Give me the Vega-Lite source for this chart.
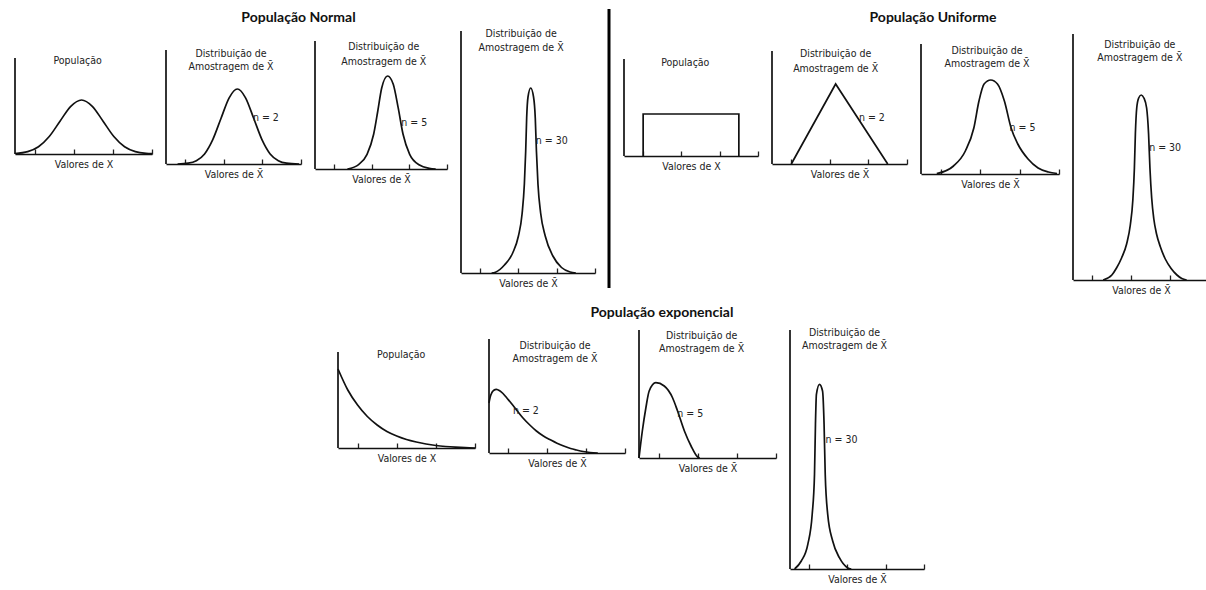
{
"$schema": "https://vega.github.io/schema/vega-lite/v6.json",
"padding": {"left": 11, "top": 7, "right": 0, "bottom": 0},
"background": "white",
"datasets": {
"n1": [{"i":0,"x":0,"y":0.5},{"i":1,"x":0.65,"y":2.4},{"i":2,"x":1.2,"y":7.3},{"i":3,"x":1.75,"y":17.5},{"i":4,"x":2.3,"y":32.8},{"i":5,"x":2.85,"y":47.7},{"i":6,"x":3.4,"y":54},{"i":7,"x":3.95,"y":47.7},{"i":8,"x":4.5,"y":32.8},{"i":9,"x":5.05,"y":17.5},{"i":10,"x":5.6,"y":7.3},{"i":11,"x":6.15,"y":2.4},{"i":12,"x":6.7,"y":0.6},{"i":13,"x":7,"y":0.3}],
"n2": [{"i":0,"x":0.6,"y":0},{"i":1,"x":1.15,"y":0.8},{"i":2,"x":1.575,"y":3.3},{"i":3,"x":2.0,"y":10.1},{"i":4,"x":2.425,"y":24.4},{"i":5,"x":2.85,"y":45.5},{"i":6,"x":3.275,"y":66.2},{"i":7,"x":3.7,"y":75},{"i":8,"x":4.125,"y":66.2},{"i":9,"x":4.55,"y":45.5},{"i":10,"x":4.975,"y":24.4},{"i":11,"x":5.4,"y":10.1},{"i":12,"x":5.825,"y":3.3},{"i":13,"x":6.25,"y":0.8},{"i":14,"x":6.9,"y":0}],
"n3": [{"i":0,"x":1.72,"y":0},{"i":1,"x":2.33,"y":4.7},{"i":2,"x":2.76,"y":14.7},{"i":3,"x":3.11,"y":34.7},{"i":4,"x":3.33,"y":58},{"i":5,"x":3.54,"y":81.3},{"i":6,"x":3.85,"y":93},{"i":7,"x":4.15,"y":84.7},{"i":8,"x":4.41,"y":61.3},{"i":9,"x":4.67,"y":34.7},{"i":10,"x":5.02,"y":14.7},{"i":11,"x":5.54,"y":4},{"i":12,"x":6.06,"y":0.7},{"i":13,"x":6.4,"y":0}],
"n4": [{"i":0,"x":1.6,"y":0},{"i":1,"x":1.8,"y":0.8},{"i":2,"x":2.27,"y":8},{"i":3,"x":2.7,"y":20},{"i":4,"x":3.0,"y":37},{"i":5,"x":3.19,"y":59},{"i":6,"x":3.31,"y":89},{"i":7,"x":3.38,"y":122},{"i":8,"x":3.43,"y":155},{"i":9,"x":3.5,"y":176},{"i":10,"x":3.64,"y":185},{"i":11,"x":3.79,"y":176},{"i":12,"x":3.88,"y":155},{"i":13,"x":3.94,"y":122},{"i":14,"x":4.02,"y":89},{"i":15,"x":4.16,"y":60},{"i":16,"x":4.4,"y":37},{"i":17,"x":4.8,"y":17},{"i":18,"x":5.25,"y":5.5},{"i":19,"x":5.7,"y":1},{"i":20,"x":6.0,"y":0}],
"u1": [{"i":0,"x":1,"y":0},{"i":1,"x":1,"y":42},{"i":2,"x":6,"y":42},{"i":3,"x":6,"y":0}],
"u2": [{"i":0,"x":1,"y":0},{"i":1,"x":3.3,"y":80},{"i":2,"x":6,"y":0}],
"u3": [{"i":0,"x":0.8,"y":0.3},{"i":1,"x":1.65,"y":8},{"i":2,"x":2.25,"y":23},{"i":3,"x":2.68,"y":46},{"i":4,"x":2.94,"y":73},{"i":5,"x":3.2,"y":90},{"i":6,"x":3.54,"y":94},{"i":7,"x":3.88,"y":90},{"i":8,"x":4.23,"y":73},{"i":9,"x":4.57,"y":46},{"i":10,"x":4.91,"y":30},{"i":11,"x":5.43,"y":15},{"i":12,"x":5.94,"y":6},{"i":13,"x":6.46,"y":2},{"i":14,"x":6.9,"y":0.5}],
"u4": [{"i":0,"x":1.55,"y":0},{"i":1,"x":2.0,"y":5},{"i":2,"x":2.24,"y":12},{"i":3,"x":2.5,"y":22},{"i":4,"x":2.76,"y":36},{"i":5,"x":2.95,"y":55},{"i":6,"x":3.08,"y":80},{"i":7,"x":3.16,"y":112},{"i":8,"x":3.21,"y":146},{"i":9,"x":3.28,"y":172},{"i":10,"x":3.38,"y":182},{"i":11,"x":3.51,"y":185},{"i":12,"x":3.65,"y":182},{"i":13,"x":3.79,"y":172},{"i":14,"x":3.89,"y":146},{"i":15,"x":3.96,"y":112},{"i":16,"x":4.05,"y":82},{"i":17,"x":4.16,"y":61},{"i":18,"x":4.3,"y":46},{"i":19,"x":4.5,"y":33},{"i":20,"x":4.75,"y":21},{"i":21,"x":5.05,"y":11.5},{"i":22,"x":5.35,"y":5},{"i":23,"x":5.6,"y":1.5},{"i":24,"x":5.85,"y":0}],
"e1": [{"i":0,"x":0,"y":79},{"i":1,"x":0.5,"y":58},{"i":2,"x":1,"y":43},{"i":3,"x":1.5,"y":31.5},{"i":4,"x":2,"y":23},{"i":5,"x":2.5,"y":16.5},{"i":6,"x":3,"y":12},{"i":7,"x":3.5,"y":8.5},{"i":8,"x":4,"y":6},{"i":9,"x":4.5,"y":4},{"i":10,"x":5,"y":2.5},{"i":11,"x":5.5,"y":1.5},{"i":12,"x":6,"y":0.8},{"i":13,"x":6.5,"y":0.3},{"i":14,"x":7,"y":0}],
"e2": [{"i":0,"x":0,"y":50},{"i":1,"x":0.06,"y":56},{"i":2,"x":0.15,"y":60.5},{"i":3,"x":0.25,"y":62.8},{"i":4,"x":0.38,"y":63.7},{"i":5,"x":0.55,"y":62.3},{"i":6,"x":0.72,"y":59.5},{"i":7,"x":0.9,"y":55.5},{"i":8,"x":1.05,"y":52},{"i":9,"x":1.24,"y":47.5},{"i":10,"x":1.5,"y":41},{"i":11,"x":1.75,"y":35},{"i":12,"x":2.1,"y":28},{"i":13,"x":2.44,"y":22},{"i":14,"x":2.8,"y":17},{"i":15,"x":3.13,"y":13.5},{"i":16,"x":3.5,"y":9.8},{"i":17,"x":3.81,"y":7.2},{"i":18,"x":4.2,"y":4.5},{"i":19,"x":4.5,"y":3},{"i":20,"x":4.85,"y":1.5},{"i":21,"x":5.2,"y":0.5},{"i":22,"x":5.6,"y":0}],
"e3": [{"i":0,"x":0,"y":0},{"i":1,"x":0.17,"y":27},{"i":2,"x":0.35,"y":50},{"i":3,"x":0.52,"y":67},{"i":4,"x":0.86,"y":75.3},{"i":5,"x":1.29,"y":72},{"i":6,"x":1.72,"y":60},{"i":7,"x":1.97,"y":47},{"i":8,"x":2.32,"y":27},{"i":9,"x":2.66,"y":12},{"i":10,"x":3.0,"y":1},{"i":11,"x":3.1,"y":0}],
"e4": [{"i":0,"x":0.24,"y":0},{"i":1,"x":0.59,"y":8},{"i":2,"x":0.93,"y":24.7},{"i":3,"x":1.16,"y":54.7},{"i":4,"x":1.28,"y":94.7},{"i":5,"x":1.33,"y":144.7},{"i":6,"x":1.38,"y":174.7},{"i":7,"x":1.54,"y":184.7},{"i":8,"x":1.7,"y":178},{"i":9,"x":1.78,"y":144.7},{"i":10,"x":1.84,"y":94.7},{"i":11,"x":1.97,"y":54.7},{"i":12,"x":2.23,"y":28},{"i":13,"x":2.58,"y":11.3},{"i":14,"x":3.0,"y":1.3},{"i":15,"x":3.2,"y":0}]
},
"vconcat": [
{"spacing": 14, "bounds": "flush", "hconcat": [
  {"width": 137, "height": 123, "layer": [
   {"data": {"name": "n1"}, "mark": {"type": "line", "interpolate": "monotone", "color": "#111", "strokeWidth": 1.7},
    "encoding": {"x": {"field": "x", "type": "quantitative", "scale": {"domain": [0, 7], "nice": false, "zero": false}, "axis": {"values": [1,2,3,4,5,6,7], "title": "Valores de X"}},
     "y": {"field": "y", "type": "quantitative", "scale": {"domain": [0, 123], "nice": false}, "axis": null}, "order": {"field": "i"}}},
   {"data": {"values": [{}]}, "mark": {"type": "rule", "color": "#111", "strokeWidth": 1.7}, "encoding": {"x": {"datum": 0}, "y": {"datum": 0, "axis": null}, "y2": {"datum": 96}}},
   {"data": {"values": [{}]}, "mark": {"type": "text"}, "encoding": {"x": {"datum": 3.2}, "y": {"datum": 93, "axis": null}, "text": {"value": "População"}}}
  ]},
  {"width": 135, "height": 133, "layer": [
   {"data": {"name": "n2"}, "mark": {"type": "line", "interpolate": "monotone", "color": "#111", "strokeWidth": 1.7},
    "encoding": {"x": {"field": "x", "type": "quantitative", "scale": {"domain": [0, 7], "nice": false, "zero": false}, "axis": {"values": [1,2,3,4,5,6,7], "title": "Valores de X̄"}},
     "y": {"field": "y", "type": "quantitative", "scale": {"domain": [0, 133], "nice": false}, "axis": null}, "order": {"field": "i"}}},
   {"data": {"values": [{}]}, "mark": {"type": "rule", "color": "#111", "strokeWidth": 1.7}, "encoding": {"x": {"datum": 0}, "y": {"datum": 0, "axis": null}, "y2": {"datum": 114}}},
   {"data": {"values": [{}]}, "mark": {"type": "text"}, "encoding": {"x": {"datum": 3.37}, "y": {"datum": 110, "axis": null}, "text": {"value": "Distribuição de"}}},
   {"data": {"values": [{}]}, "mark": {"type": "text"}, "encoding": {"x": {"datum": 3.37}, "y": {"datum": 97, "axis": null}, "text": {"value": "Amostragem de X̄"}}},
   {"data": {"values": [{}]}, "mark": {"type": "text"}, "encoding": {"x": {"datum": 5.18}, "y": {"datum": 46, "axis": null}, "text": {"value": "n = 2"}}},
   {"data": {"values": [{}]}, "mark": {"type": "text", "font": "Lato", "fontSize": 14, "fontWeight": "bold", "color": "#111"}, "encoding": {"x": {"datum": 6.87}, "y": {"datum": 146, "axis": null}, "text": {"value": "População Normal"}}}
  ]},
  {"width": 132, "height": 138, "layer": [
   {"data": {"name": "n3"}, "mark": {"type": "line", "interpolate": "monotone", "color": "#111", "strokeWidth": 1.7},
    "encoding": {"x": {"field": "x", "type": "quantitative", "scale": {"domain": [0, 7], "nice": false, "zero": false}, "axis": {"values": [1,2,3,4,5,6,7], "title": "Valores de X̄"}},
     "y": {"field": "y", "type": "quantitative", "scale": {"domain": [0, 138], "nice": false}, "axis": null}, "order": {"field": "i"}}},
   {"data": {"values": [{}]}, "mark": {"type": "rule", "color": "#111", "strokeWidth": 1.7}, "encoding": {"x": {"datum": 0}, "y": {"datum": 0, "axis": null}, "y2": {"datum": 128}}},
   {"data": {"values": [{}]}, "mark": {"type": "text"}, "encoding": {"x": {"datum": 3.65}, "y": {"datum": 122, "axis": null}, "text": {"value": "Distribuição de"}}},
   {"data": {"values": [{}]}, "mark": {"type": "text"}, "encoding": {"x": {"datum": 3.65}, "y": {"datum": 107, "axis": null}, "text": {"value": "Amostragem de X̄"}}},
   {"data": {"values": [{}]}, "mark": {"type": "text"}, "encoding": {"x": {"datum": 5.26}, "y": {"datum": 46, "axis": null}, "text": {"value": "n = 5"}}}
  ]},
  {"width": 134, "height": 242, "layer": [
   {"data": {"name": "n4"}, "mark": {"type": "line", "interpolate": "monotone", "color": "#111", "strokeWidth": 1.7},
    "encoding": {"x": {"field": "x", "type": "quantitative", "scale": {"domain": [0, 7], "nice": false, "zero": false}, "axis": {"values": [1,2,3,4,5,6,7], "title": "Valores de X̄"}},
     "y": {"field": "y", "type": "quantitative", "scale": {"domain": [0, 242], "nice": false}, "axis": null}, "order": {"field": "i"}}},
   {"data": {"values": [{}]}, "mark": {"type": "rule", "color": "#111", "strokeWidth": 1.7}, "encoding": {"x": {"datum": 0}, "y": {"datum": 0, "axis": null}, "y2": {"datum": 242}}},
   {"data": {"values": [{}]}, "mark": {"type": "text"}, "encoding": {"x": {"datum": 3.14}, "y": {"datum": 239, "axis": null}, "text": {"value": "Distribuição de"}}},
   {"data": {"values": [{}]}, "mark": {"type": "text"}, "encoding": {"x": {"datum": 3.14}, "y": {"datum": 225, "axis": null}, "text": {"value": "Amostragem de X̄"}}},
   {"data": {"values": [{}]}, "mark": {"type": "text"}, "encoding": {"x": {"datum": 4.74}, "y": {"datum": 132, "axis": null}, "text": {"value": "n = 30"}}}
  ]},
  {"width": 1, "height": 257, "data": {"values": [{}]}, "mark": {"type": "rule", "color": "#000", "strokeWidth": 3},
   "encoding": {"x": {"datum": 0, "scale": {"domain": [0, 1]}, "axis": null}, "y": {"datum": 0, "scale": {"domain": [0, 257], "nice": false}, "axis": null}, "y2": {"datum": 279}}},
  {"width": 134, "height": 125, "layer": [
   {"data": {"name": "u1"}, "mark": {"type": "line", "interpolate": "linear", "color": "#111", "strokeWidth": 1.7},
    "encoding": {"x": {"field": "x", "type": "quantitative", "scale": {"domain": [0, 7], "nice": false, "zero": false}, "axis": {"values": [1,2,3,4,5,6,7], "title": "Valores de X"}},
     "y": {"field": "y", "type": "quantitative", "scale": {"domain": [0, 125], "nice": false}, "axis": null}, "order": {"field": "i"}}},
   {"data": {"values": [{}]}, "mark": {"type": "rule", "color": "#111", "strokeWidth": 1.7}, "encoding": {"x": {"datum": 0}, "y": {"datum": 0, "axis": null}, "y2": {"datum": 97}}},
   {"data": {"values": [{}]}, "mark": {"type": "text"}, "encoding": {"x": {"datum": 3.2}, "y": {"datum": 93, "axis": null}, "text": {"value": "População"}}}
  ]},
  {"width": 135, "height": 133, "layer": [
   {"data": {"name": "u2"}, "mark": {"type": "line", "interpolate": "linear", "color": "#111", "strokeWidth": 1.7},
    "encoding": {"x": {"field": "x", "type": "quantitative", "scale": {"domain": [0, 7], "nice": false, "zero": false}, "axis": {"values": [1,2,3,4,5,6,7], "title": "Valores de X̄"}},
     "y": {"field": "y", "type": "quantitative", "scale": {"domain": [0, 133], "nice": false}, "axis": null}, "order": {"field": "i"}}},
   {"data": {"values": [{}]}, "mark": {"type": "rule", "color": "#111", "strokeWidth": 1.7}, "encoding": {"x": {"datum": 0}, "y": {"datum": 0, "axis": null}, "y2": {"datum": 113}}},
   {"data": {"values": [{}]}, "mark": {"type": "text"}, "encoding": {"x": {"datum": 3.3}, "y": {"datum": 110, "axis": null}, "text": {"value": "Distribuição de"}}},
   {"data": {"values": [{}]}, "mark": {"type": "text"}, "encoding": {"x": {"datum": 3.3}, "y": {"datum": 95, "axis": null}, "text": {"value": "Amostragem de X̄"}}},
   {"data": {"values": [{}]}, "mark": {"type": "text"}, "encoding": {"x": {"datum": 5.18}, "y": {"datum": 46, "axis": null}, "text": {"value": "n = 2"}}},
   {"data": {"values": [{}]}, "mark": {"type": "text", "font": "Lato", "fontSize": 14, "fontWeight": "bold", "color": "#111"}, "encoding": {"x": {"datum": 8.35}, "y": {"datum": 146, "axis": null}, "text": {"value": "População Uniforme"}}}
  ]},
  {"width": 138, "height": 143, "layer": [
   {"data": {"name": "u3"}, "mark": {"type": "line", "interpolate": "monotone", "color": "#111", "strokeWidth": 1.7},
    "encoding": {"x": {"field": "x", "type": "quantitative", "scale": {"domain": [0, 7], "nice": false, "zero": false}, "axis": {"values": [1,2,3,4,5,6,7], "title": "Valores de X̄"}},
     "y": {"field": "y", "type": "quantitative", "scale": {"domain": [0, 143], "nice": false}, "axis": null}, "order": {"field": "i"}}},
   {"data": {"values": [{}]}, "mark": {"type": "rule", "color": "#111", "strokeWidth": 1.7}, "encoding": {"x": {"datum": 0}, "y": {"datum": 0, "axis": null}, "y2": {"datum": 130}}},
   {"data": {"values": [{}]}, "mark": {"type": "text"}, "encoding": {"x": {"datum": 3.35}, "y": {"datum": 123, "axis": null}, "text": {"value": "Distribuição de"}}},
   {"data": {"values": [{}]}, "mark": {"type": "text"}, "encoding": {"x": {"datum": 3.35}, "y": {"datum": 110, "axis": null}, "text": {"value": "Amostragem de X̄"}}},
   {"data": {"values": [{}]}, "mark": {"type": "text"}, "encoding": {"x": {"datum": 5.15}, "y": {"datum": 46, "axis": null}, "text": {"value": "n = 5"}}}
  ]},
  {"width": 136, "height": 249, "layer": [
   {"data": {"name": "u4"}, "mark": {"type": "line", "interpolate": "monotone", "color": "#111", "strokeWidth": 1.7},
    "encoding": {"x": {"field": "x", "type": "quantitative", "scale": {"domain": [0, 7], "nice": false, "zero": false}, "axis": {"values": [1,2,3,4,5,6,7], "title": "Valores de X̄"}},
     "y": {"field": "y", "type": "quantitative", "scale": {"domain": [0, 249], "nice": false}, "axis": null}, "order": {"field": "i"}}},
   {"data": {"values": [{}]}, "mark": {"type": "rule", "color": "#111", "strokeWidth": 1.7}, "encoding": {"x": {"datum": 0}, "y": {"datum": 0, "axis": null}, "y2": {"datum": 246}}},
   {"data": {"values": [{}]}, "mark": {"type": "text"}, "encoding": {"x": {"datum": 3.44}, "y": {"datum": 235, "axis": null}, "text": {"value": "Distribuição de"}}},
   {"data": {"values": [{}]}, "mark": {"type": "text"}, "encoding": {"x": {"datum": 3.44}, "y": {"datum": 222, "axis": null}, "text": {"value": "Amostragem de X̄"}}},
   {"data": {"values": [{}]}, "mark": {"type": "text"}, "encoding": {"x": {"datum": 4.74}, "y": {"datum": 132, "axis": null}, "text": {"value": "n = 30"}}}
  ]}
]},
{"spacing": 14, "bounds": "flush", "hconcat": [
  {"width": 309, "height": 10, "data": {"values": [{}]}, "mark": {"type": "rule", "opacity": 0, "strokeWidth": 1.7},
   "encoding": {"x": {"datum": 0, "scale": {"domain": [0, 1]}, "axis": null}}},
  {"width": 137, "height": 118, "layer": [
   {"data": {"name": "e1"}, "mark": {"type": "line", "interpolate": "monotone", "color": "#111", "strokeWidth": 1.7},
    "encoding": {"x": {"field": "x", "type": "quantitative", "scale": {"domain": [0, 7], "nice": false, "zero": false}, "axis": {"values": [1,2,3,4,5,6,7], "title": "Valores de X"}},
     "y": {"field": "y", "type": "quantitative", "scale": {"domain": [0, 118], "nice": false}, "axis": null}, "order": {"field": "i"}}},
   {"data": {"values": [{}]}, "mark": {"type": "rule", "color": "#111", "strokeWidth": 1.7}, "encoding": {"x": {"datum": 0}, "y": {"datum": 0, "axis": null}, "y2": {"datum": 96}}},
   {"data": {"values": [{}]}, "mark": {"type": "text"}, "encoding": {"x": {"datum": 3.23}, "y": {"datum": 93, "axis": null}, "text": {"value": "População"}}}
  ]},
  {"width": 136, "height": 123, "layer": [
   {"data": {"name": "e2"}, "mark": {"type": "line", "interpolate": "monotone", "color": "#111", "strokeWidth": 1.7},
    "encoding": {"x": {"field": "x", "type": "quantitative", "scale": {"domain": [0, 7], "nice": false, "zero": false}, "axis": {"values": [1,2,3,4,5,6,7], "title": "Valores de X̄"}},
     "y": {"field": "y", "type": "quantitative", "scale": {"domain": [0, 123], "nice": false}, "axis": null}, "order": {"field": "i"}}},
   {"data": {"values": [{}]}, "mark": {"type": "rule", "color": "#111", "strokeWidth": 1.7}, "encoding": {"x": {"datum": 0}, "y": {"datum": 0, "axis": null}, "y2": {"datum": 114}}},
   {"data": {"values": [{}]}, "mark": {"type": "text"}, "encoding": {"x": {"datum": 3.4}, "y": {"datum": 107, "axis": null}, "text": {"value": "Distribuição de"}}},
   {"data": {"values": [{}]}, "mark": {"type": "text"}, "encoding": {"x": {"datum": 3.4}, "y": {"datum": 94, "axis": null}, "text": {"value": "Amostragem de X̄"}}},
   {"data": {"values": [{}]}, "mark": {"type": "text"}, "encoding": {"x": {"datum": 1.9}, "y": {"datum": 42, "axis": null}, "text": {"value": "n = 2"}}},
   {"data": {"values": [{}]}, "mark": {"type": "text", "font": "Lato", "fontSize": 14, "fontWeight": "bold", "color": "#111"}, "encoding": {"x": {"datum": 8.9}, "y": {"datum": 140, "axis": null}, "text": {"value": "População exponencial"}}}
  ]},
  {"width": 137, "height": 128, "layer": [
   {"data": {"name": "e3"}, "mark": {"type": "line", "interpolate": "monotone", "color": "#111", "strokeWidth": 1.7},
    "encoding": {"x": {"field": "x", "type": "quantitative", "scale": {"domain": [0, 7], "nice": false, "zero": false}, "axis": {"values": [1,2,3,4,5,6,7], "title": "Valores de X̄"}},
     "y": {"field": "y", "type": "quantitative", "scale": {"domain": [0, 128], "nice": false}, "axis": null}, "order": {"field": "i"}}},
   {"data": {"values": [{}]}, "mark": {"type": "rule", "color": "#111", "strokeWidth": 1.7}, "encoding": {"x": {"datum": 0}, "y": {"datum": 0, "axis": null}, "y2": {"datum": 128}}},
   {"data": {"values": [{}]}, "mark": {"type": "text"}, "encoding": {"x": {"datum": 3.2}, "y": {"datum": 122, "axis": null}, "text": {"value": "Distribuição de"}}},
   {"data": {"values": [{}]}, "mark": {"type": "text"}, "encoding": {"x": {"datum": 3.2}, "y": {"datum": 109, "axis": null}, "text": {"value": "Amostragem de X̄"}}},
   {"data": {"values": [{}]}, "mark": {"type": "text"}, "encoding": {"x": {"datum": 2.62}, "y": {"datum": 44, "axis": null}, "text": {"value": "n = 5"}}}
  ]},
  {"width": 134, "height": 239, "layer": [
   {"data": {"name": "e4"}, "mark": {"type": "line", "interpolate": "monotone", "color": "#111", "strokeWidth": 1.7},
    "encoding": {"x": {"field": "x", "type": "quantitative", "scale": {"domain": [0, 7], "nice": false, "zero": false}, "axis": {"values": [1,2,3,4,5,6,7], "title": "Valores de X̄"}},
     "y": {"field": "y", "type": "quantitative", "scale": {"domain": [0, 239], "nice": false}, "axis": null}, "order": {"field": "i"}}},
   {"data": {"values": [{}]}, "mark": {"type": "rule", "color": "#111", "strokeWidth": 1.7}, "encoding": {"x": {"datum": 0}, "y": {"datum": 0, "axis": null}, "y2": {"datum": 239}}},
   {"data": {"values": [{}]}, "mark": {"type": "text"}, "encoding": {"x": {"datum": 2.85}, "y": {"datum": 236, "axis": null}, "text": {"value": "Distribuição de"}}},
   {"data": {"values": [{}]}, "mark": {"type": "text"}, "encoding": {"x": {"datum": 2.85}, "y": {"datum": 223, "axis": null}, "text": {"value": "Amostragem de X̄"}}},
   {"data": {"values": [{}]}, "mark": {"type": "text"}, "encoding": {"x": {"datum": 2.69}, "y": {"datum": 129, "axis": null}, "text": {"value": "n = 30"}}}
  ]}
]}
],
"spacing": 9,
"config": {
 "view": {"stroke": null},
 "axisX": {"labels": false, "grid": false, "tickSize": -5, "tickWidth": 1.3, "tickColor": "#222", "domainColor": "#111", "domainWidth": 1.7, "titleFont": "Liberation Sans Narrow, DejaVu Sans Condensed, Liberation Sans, sans-serif", "titleFontSize": 10.5, "titleFontWeight": "normal", "titleColor": "#222", "titlePadding": 5},
 "text": {"font": "Liberation Sans Narrow, DejaVu Sans Condensed, Liberation Sans, sans-serif", "fontSize": 10.5, "color": "#222"}
}
}
